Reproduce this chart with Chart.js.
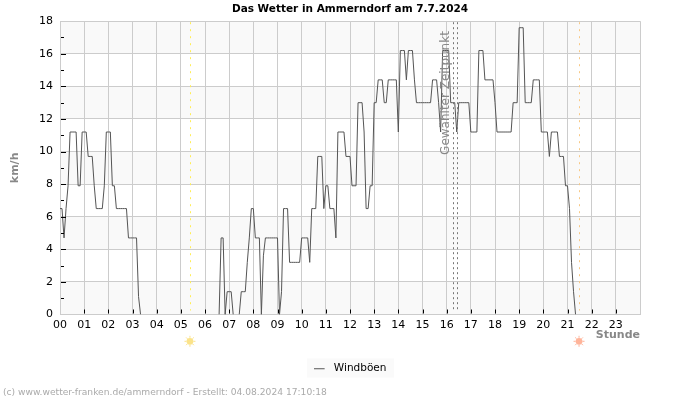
<!DOCTYPE html>
<html>
<head>
<meta charset="utf-8">
<title>Das Wetter in Ammerndorf</title>
<script src="https://cdn.jsdelivr.net/npm/chart.js@4/dist/chart.umd.min.js"></script>
<style>
  body { margin: 0; background: #fff; }
  canvas { display: block; }
</style>
</head>
<body>
<canvas id="chart" width="700" height="400"></canvas>
<script>
// Windböen in km/h, one row per hour, one value every 5 minutes
const h00 = [6.5, 6.5, 4.7, 6.5, 7.9, 11.2, 11.2, 11.2, 11.2, 7.9, 7.9, 11.2];
const h01 = [11.2, 11.2, 9.7, 9.7, 9.7, 7.9, 6.5, 6.5, 6.5, 6.5, 7.9, 11.2];
const h02 = [11.2, 11.2, 7.9, 7.9, 6.5, 6.5, 6.5, 6.5, 6.5, 6.5, 4.7, 4.7];
const h03 = [4.7, 4.7, 4.7, 1.1, 0, null, null, null, null, null, null, null];
const h04 = [null, null, null, null, null, null, null, null, null, null, null, null];
const h05 = [null, null, null, null, null, null, null, null, null, null, null, null];
const h06 = [null, null, null, null, null, null, null, 0, 4.7, 4.7, 0, 1.4];
const h07 = [1.4, 1.4, 0, null, null, 0, 1.4, 1.4, 1.4, 3.2, 4.7, 6.5];
const h08 = [6.5, 4.7, 4.7, 4.7, 0, 3.6, 4.7, 4.7, 4.7, 4.7, 4.7, 4.7];
const h09 = [4.7, 0, 1.4, 6.5, 6.5, 6.5, 3.2, 3.2, 3.2, 3.2, 3.2, 3.2];
const h10 = [4.7, 4.7, 4.7, 4.7, 3.2, 6.5, 6.5, 6.5, 9.7, 9.7, 9.7, 6.5];
const h11 = [7.9, 7.9, 6.5, 6.5, 6.5, 4.7, 11.2, 11.2, 11.2, 11.2, 9.7, 9.7];
const h12 = [9.7, 7.9, 7.9, 7.9, 13, 13, 13, 11.2, 6.5, 6.5, 7.9, 7.9];
const h13 = [13, 13, 14.4, 14.4, 14.4, 13, 13, 14.4, 14.4, 14.4, 14.4, 14.4];
const h14 = [11.2, 16.2, 16.2, 16.2, 14.4, 16.2, 16.2, 16.2, 14.4, 13, 13, 13];
const h15 = [13, 13, 13, 13, 13, 14.4, 14.4, 14.4, 13, 11.2, 16.2, 16.2];
const h16 = [16.2, 16.2, 13, 13, 13, 11.2, 13, 13, 13, 13, 13, 13];
const h17 = [11.2, 11.2, 11.2, 11.2, 16.2, 16.2, 16.2, 14.4, 14.4, 14.4, 14.4, 14.4];
const h18 = [13, 11.2, 11.2, 11.2, 11.2, 11.2, 11.2, 11.2, 11.2, 13, 13, 13];
const h19 = [17.6, 17.6, 17.6, 13, 13, 13, 13, 14.4, 14.4, 14.4, 14.4, 11.2];
const h20 = [11.2, 11.2, 11.2, 9.7, 11.2, 11.2, 11.2, 11.2, 9.7, 9.7, 9.7, 7.9];
const h21 = [7.9, 6.5, 3.2, 1.4, 0];

const gusts = [].concat(h00, h01, h02, h03, h04, h05, h06, h07, h08, h09, h10,
  h11, h12, h13, h14, h15, h16, h17, h18, h19, h20, h21);

const hourLabels = ['00', '01', '02', '03', '04', '05', '06', '07', '08', '09', '10', '11',
  '12', '13', '14', '15', '16', '17', '18', '19', '20', '21', '22', '23'];

const sunrise = 5.39;
const sunset = 21.49;
const selectedTimes = [16.27, 16.42];
const shadedBands = [[0, 2], [4, 6], [8, 10], [12, 14], [16, 18]];
const minorTicks = [1, 3, 5, 7, 9, 11, 13, 15, 17];

function dottedLine(ctx, chart, hour, color, dash) {
  const x = Math.round(chart.scales.x.getPixelForValue(hour)) + 0.5;
  ctx.save();
  ctx.strokeStyle = color;
  ctx.lineWidth = 1;
  ctx.setLineDash(dash);
  ctx.beginPath();
  ctx.moveTo(x, chart.chartArea.top + 1);
  ctx.lineTo(x, chart.chartArea.bottom - 4);
  ctx.stroke();
  ctx.restore();
}

function drawSun(ctx, x, y, color) {
  ctx.save();
  ctx.fillStyle = color;
  ctx.strokeStyle = color;
  ctx.lineWidth = 1;
  ctx.beginPath();
  ctx.arc(x, y, 3.4, 0, Math.PI * 2);
  ctx.fill();
  for (let i = 0; i < 8; i++) {
    const a = i * Math.PI / 4;
    ctx.beginPath();
    ctx.moveTo(x + Math.cos(a) * 3.5, y + Math.sin(a) * 3.5);
    ctx.lineTo(x + Math.cos(a) * 5.5, y + Math.sin(a) * 5.5);
    ctx.stroke();
  }
  ctx.restore();
}

// legend swatch: short line with empty room on its right
const swatch = document.createElement('canvas');
swatch.width = 15;
swatch.height = 3;
const swatchCtx = swatch.getContext('2d');
swatchCtx.fillStyle = '#555555';
swatchCtx.fillRect(0, 1, 11, 1);

const decorations = {
  id: 'decorations',
  beforeDraw(chart) {
    const { ctx, chartArea, scales, legend } = chart;
    // legend background
    ctx.fillStyle = '#fafafa';
    ctx.fillRect(307, legend.top, 87, 19);
    // alternating bands
    ctx.fillStyle = '#f9f9f9';
    shadedBands.forEach(b => {
      const top = scales.y.getPixelForValue(b[1]);
      const bottom = scales.y.getPixelForValue(b[0]);
      ctx.fillRect(chartArea.left, top, chartArea.right - chartArea.left, bottom - top);
    });
  },
  beforeDatasetsDraw(chart) {
    const ctx = chart.ctx;
    dottedLine(ctx, chart, sunrise, '#ffee55', [2, 5]);
    dottedLine(ctx, chart, sunset, '#f8c884', [2, 5]);
  },
  afterDatasetsDraw(chart) {
    const { ctx, chartArea, scales } = chart;
    selectedTimes.forEach(t => dottedLine(ctx, chart, t, '#777777', [2, 3]));

    // black ticks inside the plot
    ctx.save();
    ctx.strokeStyle = '#000';
    ctx.lineWidth = 1;
    ctx.beginPath();
    scales.y.ticks.forEach(t => {
      const y = Math.round(scales.y.getPixelForValue(t.value)) + 0.5;
      if (t.value > 0 && t.value < 18) {
        ctx.moveTo(chartArea.left + 1, y);
        ctx.lineTo(chartArea.left + 6, y);
      }
    });
    minorTicks.forEach(v => {
      const y = Math.round(scales.y.getPixelForValue(v)) + 0.5;
      ctx.moveTo(chartArea.left + 1, y);
      ctx.lineTo(chartArea.left + 4, y);
    });
    hourLabels.forEach((l, i) => {
      if (i === 0) return;
      const x = Math.round(scales.x.getPixelForValue(i)) + 0.5;
      ctx.moveTo(x, chartArea.bottom - 1);
      ctx.lineTo(x, chartArea.bottom - 5);
    });
    ctx.stroke();
    ctx.restore();

    // selected time label
    ctx.save();
    ctx.translate(scales.x.getPixelForValue(selectedTimes[0]) - 7, 93);
    ctx.rotate(-Math.PI / 2);
    ctx.font = '12px "DejaVu Sans"';
    ctx.fillStyle = '#888888';
    ctx.textAlign = 'center';
    ctx.textBaseline = 'middle';
    ctx.fillText('Gewählter Zeitpunkt', 0, 0);
    ctx.restore();

    drawSun(ctx, scales.x.getPixelForValue(sunrise) - 0.3, 341.3, '#fbe38a');
    drawSun(ctx, scales.x.getPixelForValue(sunset) - 0.3, 341.3, '#ffb49a');

    // copyright
    ctx.save();
    ctx.font = '9.15px "DejaVu Sans"';
    ctx.fillStyle = '#aaaaaa';
    ctx.textBaseline = 'middle';
    ctx.fillText('(c) www.wetter-franken.de/ammerndorf - Erstellt: 04.08.2024 17:10:18', 3, 393);
    ctx.restore();
  }
};

new Chart(document.getElementById('chart'), {
  type: 'line',
  data: {
    datasets: [{
      label: 'Windböen',
      data: gusts.map((v, i) => ({ x: i / 12, y: v })),
      borderColor: '#555555',
      backgroundColor: '#555555',
      borderWidth: 1,
      pointRadius: 0,
      tension: 0,
      spanGaps: false
    }]
  },
  options: {
    responsive: false,
    animation: false,
    layout: { padding: { top: 0, right: 0, bottom: 16, left: 0 } },
    plugins: {
      title: {
        display: true,
        text: 'Das Wetter in Ammerndorf am 7.7.2024',
        color: '#000',
        font: { family: 'DejaVu Sans', size: 10.5, weight: 'bold' },
        padding: { top: 3, bottom: 5.6 }
      },
      legend: {
        position: 'bottom',
        labels: {
          color: '#000',
          font: { family: 'DejaVu Sans', size: 10.5 },
          usePointStyle: true,
          pointStyle: swatch,
          pointStyleWidth: 15,
          padding: 5
        }
      },
      tooltip: { enabled: false }
    },
    scales: {
      x: {
        type: 'linear',
        min: 0,
        max: 24,
        afterFit(scale) { scale.height = 44; },
        afterBuildTicks(scale) { scale.ticks = hourLabels.map((l, i) => ({ value: i })).concat({ value: 24 }); },
        ticks: {
          stepSize: 1,
          autoSkip: false,
          maxRotation: 0,
          padding: 4,
          color: '#000',
          font: { family: 'DejaVu Sans', size: 11 },
          callback: (v) => hourLabels[v] || ''
        },
        grid: { color: '#cccccc', drawTicks: false },
        border: { color: '#cccccc' },
        title: {
          display: true,
          text: 'Stunde',
          align: 'end',
          color: '#888888',
          font: { family: 'DejaVu Sans', size: 11, weight: 'bold' },
          padding: { top: 0, bottom: 17 }
        }
      },
      y: {
        min: 0,
        max: 18,
        afterFit(scale) { scale.width = 60; },
        ticks: {
          stepSize: 2,
          padding: 7,
          color: '#000',
          font: { family: 'DejaVu Sans', size: 11 }
        },
        grid: { color: '#cccccc', drawTicks: false },
        border: { color: '#cccccc' },
        title: {
          display: true,
          text: 'km/h',
          color: '#888888',
          font: { family: 'DejaVu Sans', size: 11, weight: 'bold' },
          padding: { top: 9, bottom: 0 }
        }
      },
      // empty axis keeps the right margin so title and legend centre on the page
      yRight: {
        position: 'right',
        min: 0,
        max: 18,
        afterFit(scale) { scale.width = 60; },
        ticks: { display: false },
        grid: { display: false },
        border: { display: false }
      }
    }
  },
  plugins: [decorations]
});
</script>
</body>
</html>
